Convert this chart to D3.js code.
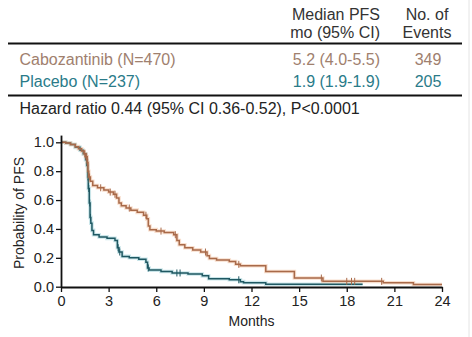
<!DOCTYPE html>
<html>
<head>
<meta charset="utf-8">
<script src="https://cdn.jsdelivr.net/npm/d3@7/dist/d3.min.js"></script>
<style>
  html, body { margin: 0; padding: 0; background: #ffffff; }
  svg { display: block; font-family: "Liberation Sans", Arial, sans-serif; }
</style>
</head>
<body>
<svg id="chart" width="472" height="337"></svg>
<script>
// Kaplan–Meier progression-free survival, cabozantinib vs placebo

// Step points: survival probability holds from each time until the next one
const cabozTimes = [0, 0.3, 0.6, 0.9, 1.1, 1.3, 1.45, 1.55, 1.65, 1.7, 1.75, 1.85, 2.0, 2.3, 2.7, 3.0, 3.3, 3.5, 3.65, 3.8, 4.1, 4.4, 4.8, 5.2, 5.4, 5.5, 5.6, 6.0, 6.5, 7.1, 7.3, 7.45, 7.8, 8.3, 8.8, 9.2, 9.35, 9.8, 10.6, 11.0, 11.3, 12.9, 14.7, 16.5, 20.3, 22.2];
const cabozSurv  = [1.0, 0.995, 0.985, 0.97, 0.955, 0.94, 0.92, 0.90, 0.86, 0.80, 0.76, 0.73, 0.70, 0.685, 0.67, 0.655, 0.64, 0.615, 0.58, 0.56, 0.545, 0.53, 0.515, 0.495, 0.47, 0.42, 0.395, 0.385, 0.375, 0.36, 0.32, 0.29, 0.27, 0.255, 0.24, 0.215, 0.195, 0.185, 0.175, 0.155, 0.145, 0.105, 0.06, 0.037, 0.027, 0.015];
const cabozEnd = 24;
const cabozCensored = [1.5, 1.58, 1.62, 1.68, 1.8, 2.5, 3.1, 3.4, 4.3, 5.35, 6.3, 7.2, 9.1, 11.2, 16.4, 18.0, 18.3, 18.5, 20.2];

const placeboTimes = [0, 0.3, 0.6, 0.9, 1.2, 1.4, 1.55, 1.62, 1.68, 1.72, 1.78, 1.83, 1.88, 1.95, 2.05, 2.4, 2.9, 3.4, 3.55, 3.65, 3.85, 4.3, 4.9, 5.35, 5.45, 5.55, 6.3, 7.0, 8.0, 8.9, 9.3, 10.6, 11.3, 11.5, 12.9];
const placeboSurv  = [1.0, 0.995, 0.985, 0.965, 0.945, 0.92, 0.88, 0.84, 0.76, 0.68, 0.58, 0.48, 0.44, 0.39, 0.36, 0.345, 0.335, 0.32, 0.27, 0.24, 0.21, 0.20, 0.19, 0.17, 0.13, 0.115, 0.105, 0.095, 0.088, 0.075, 0.055, 0.048, 0.035, 0.028, 0.017];
const placeboEnd = 19;
const placeboCensored = [1.7, 1.75, 1.81, 1.86, 3.6, 3.7, 5.5, 7.3, 7.5, 11.2];

// Summary table
const tableHeader1 = ["Median PFS", "mo (95% CI)"];
const tableHeader2 = ["No. of", "Events"];
const armLabels = ["Cabozantinib (N=470)", "Placebo (N=237)"];
const armMedians = ["5.2 (4.0-5.5)", "1.9 (1.9-1.9)"];
const armEvents = ["349", "205"];
const hazardText = "Hazard ratio 0.44 (95% CI 0.36-0.52), P<0.0001";

// Axes
const xTicks = [0, 3, 6, 9, 12, 15, 18, 21, 24];
const yTicks = [0.0, 0.2, 0.4, 0.6, 0.8, 1.0];
const xTitle = "Months";
const yTitle = "Probability of PFS";

const colors = {
  cabozText: "#a0806e", cabozLine: "#a86a4a", cabozGlow: "#eaa070",
  placeboText: "#2a7b89", placeboLine: "#1f5862", placeboGlow: "#6ab6c4",
  ink: "#222222"
};

const svg = d3.select("#chart");

// ---- Table ----
const t = svg.append("g").attr("font-size", 16);
t.selectAll("text.h1").data(tableHeader1).join("text")
  .attr("x", 380).attr("y", (d, i) => 19.5 + i * 18.5)
  .attr("text-anchor", "end").attr("fill", "#333").text(d => d);
t.selectAll("text.h2").data(tableHeader2).join("text")
  .attr("x", 427).attr("y", (d, i) => 19.5 + i * 18.5)
  .attr("text-anchor", "middle").attr("fill", "#333").text(d => d);

t.append("line").attr("x1", 8).attr("x2", 462).attr("y1", 43.5).attr("y2", 43.5)
  .attr("stroke", "#111").attr("stroke-width", 2);

const rowY = [64.5, 86.5];
const rowColors = [colors.cabozText, colors.placeboText];
armLabels.forEach((lab, i) => {
  t.append("text").attr("x", 19.5).attr("y", rowY[i]).attr("fill", rowColors[i]).text(lab);
  t.append("text").attr("x", 380).attr("y", rowY[i]).attr("text-anchor", "end")
    .attr("fill", rowColors[i]).text(armMedians[i]);
  t.append("text").attr("x", 428).attr("y", rowY[i]).attr("text-anchor", "middle")
    .attr("fill", rowColors[i]).text(armEvents[i]);
});

t.append("line").attr("x1", 8).attr("x2", 462).attr("y1", 95.5).attr("y2", 95.5)
  .attr("stroke", "#111").attr("stroke-width", 2);
t.append("text").attr("x", 19.5).attr("y", 114).attr("fill", colors.ink).text(hazardText);

// ---- Plot ----
const x = d3.scaleLinear().domain([0, 24]).range([61, 442]);
const y = d3.scaleLinear().domain([0, 1.05]).range([286.7, 286.7 - 1.05 * 144.4]);

function stepData(times, surv, end) {
  const pts = times.map((tm, i) => [tm, surv[i]]);
  pts.push([end, surv[surv.length - 1]]);
  return pts;
}
function survAt(times, surv, tm) {
  let v = surv[0];
  for (let i = 0; i < times.length; i++) if (times[i] <= tm) v = surv[i];
  return v;
}

const line = d3.line().x(d => x(d[0])).y(d => y(d[1])).curve(d3.curveStepAfter);

const arms = [
  { times: cabozTimes, surv: cabozSurv, end: cabozEnd, cens: cabozCensored, line: colors.cabozLine, glow: colors.cabozGlow },
  { times: placeboTimes, surv: placeboSurv, end: placeboEnd, cens: placeboCensored, line: colors.placeboLine, glow: colors.placeboGlow }
];

// Axes
const xAxis = d3.axisBottom(x).tickValues(xTicks).tickFormat(d3.format("d"))
  .tickSize(5).tickSizeOuter(0).tickPadding(4);
const yAxis = d3.axisLeft(y).tickValues(yTicks).tickFormat(d3.format(".1f"))
  .tickSize(5).tickSizeOuter(0).tickPadding(2);

// Curves drawn first (reverse order so cabozantinib sits on top where they overlap)
const curves = svg.append("g");
arms.slice().reverse().forEach(a => {
  const data = stepData(a.times, a.surv, a.end);
  curves.append("path").datum(data).attr("d", line).attr("fill", "none")
    .attr("stroke", a.glow).attr("stroke-width", 3.6).attr("stroke-opacity", 0.35);
  curves.append("path").datum(data).attr("d", line).attr("fill", "none")
    .attr("stroke", a.line).attr("stroke-width", 1.5);
  curves.selectAll(null).data(a.cens).join("line")
    .attr("x1", d => x(d)).attr("x2", d => x(d))
    .attr("y1", d => y(survAt(a.times, a.surv, d)) - 3.5)
    .attr("y2", d => y(survAt(a.times, a.surv, d)) + 3.5)
    .attr("stroke", a.line).attr("stroke-width", 1);
});

const gx = svg.append("g").attr("transform", "translate(0,287)").call(xAxis);
const gy = svg.append("g").attr("transform", "translate(61,0)").call(yAxis);
[gx, gy].forEach(g => {
  g.selectAll("path.domain").attr("stroke", "#111").attr("stroke-width", 1.8);
  g.selectAll(".tick line").attr("stroke", "#111").attr("stroke-width", 1.3);
  g.selectAll(".tick text").attr("fill", colors.ink).attr("font-size", 14.5)
    .attr("font-family", "'Liberation Sans', Arial, sans-serif");
});

svg.append("text").attr("x", 251.5).attr("y", 326).attr("text-anchor", "middle")
  .attr("font-size", 14).attr("fill", colors.ink).text(xTitle);
svg.append("text").attr("transform", "translate(24,213) rotate(-90)")
  .attr("text-anchor", "middle").attr("font-size", 14).attr("fill", colors.ink).text(yTitle);

// faint frame edge on the right
svg.append("line").attr("x1", 469).attr("x2", 469).attr("y1", 0).attr("y2", 337)
  .attr("stroke", "#e4e4e4").attr("stroke-width", 1);
</script>
</body>
</html>
